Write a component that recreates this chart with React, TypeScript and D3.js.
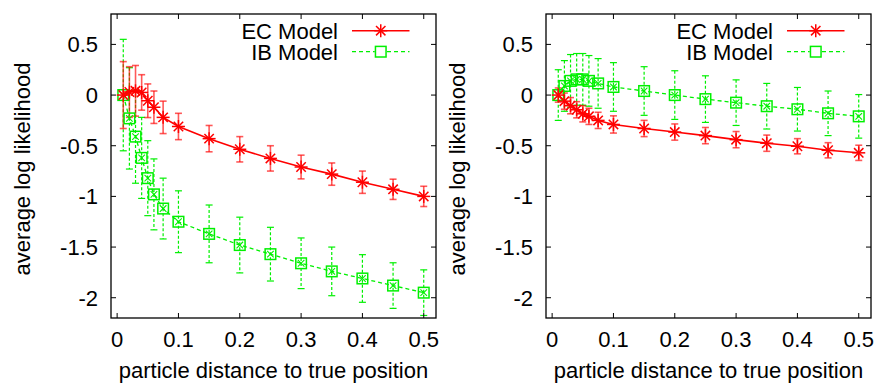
import React from "react";
import * as d3 from "d3";

const distances = [0.01, 0.02, 0.03, 0.04, 0.05, 0.06, 0.075, 0.1, 0.15, 0.2, 0.25, 0.3, 0.35, 0.4, 0.45, 0.5];

// Left panel
const leftEC = [0, 0.03, 0.042, 0.026, -0.056, -0.12, -0.22, -0.31, -0.43, -0.535, -0.625, -0.71, -0.78, -0.86, -0.93, -1.0];
const leftECErr = [0.33, 0.25, 0.25, 0.175, 0.166, 0.16, 0.16, 0.13, 0.13, 0.125, 0.125, 0.117, 0.11, 0.11, 0.1, 0.1];
const leftIB = [0, -0.23, -0.41, -0.62, -0.82, -0.98, -1.12, -1.25, -1.37, -1.48, -1.57, -1.66, -1.74, -1.81, -1.88, -1.95];
const leftIBErr = [0.55, 0.5, 0.46, 0.4, 0.37, 0.35, 0.3, 0.305, 0.285, 0.275, 0.265, 0.25, 0.24, 0.235, 0.225, 0.225];

// Right panel
const rightEC = [0, -0.06, -0.105, -0.145, -0.185, -0.21, -0.25, -0.29, -0.33, -0.365, -0.4, -0.44, -0.475, -0.505, -0.545, -0.57];
const rightECErr = [0.07, 0.08, 0.08, 0.08, 0.08, 0.08, 0.08, 0.085, 0.08, 0.08, 0.08, 0.08, 0.08, 0.075, 0.075, 0.075];
const rightIB = [0, 0.09, 0.14, 0.155, 0.155, 0.14, 0.115, 0.08, 0.04, 0.0, -0.04, -0.075, -0.11, -0.14, -0.18, -0.21];
const rightIBErr = [0.25, 0.25, 0.26, 0.255, 0.255, 0.25, 0.245, 0.24, 0.24, 0.24, 0.23, 0.225, 0.225, 0.215, 0.22, 0.215];

const xTicks = [0, 0.1, 0.2, 0.3, 0.4, 0.5];
const xTickLabels = ["0", "0.1", "0.2", "0.3", "0.4", "0.5"];
const yTicks = [0.5, 0, -0.5, -1, -1.5, -2];
const yTickLabels = ["0.5", "0", "-0.5", "-1", "-1.5", "-2"];
const seriesNames = ["EC Model", "IB Model"];
const xAxisTitle = "particle distance to true position";
const yAxisTitle = "average log likelihood";

const RED = "#ff0000";
const GREEN = "#00f000";
const FONT = "'Liberation Sans', Arial, Helvetica, sans-serif";
const FS = 22;

function Star({ x, y, color }: { x: number; y: number; color: string }) {
  const a = 6.5;
  const b = 4.7;
  return (
    <g stroke={color} strokeWidth={1.5}>
      <line x1={x - a} y1={y} x2={x + a} y2={y} />
      <line x1={x} y1={y - a} x2={x} y2={y + a} />
      <line x1={x - b} y1={y - b} x2={x + b} y2={y + b} />
      <line x1={x - b} y1={y + b} x2={x + b} y2={y - b} />
    </g>
  );
}

function BoxX({ x, y, color, inner = true }: { x: number; y: number; color: string; inner?: boolean }) {
  const s = 5.3;
  const c = 3.3;
  return (
    <g stroke={color} strokeWidth={1.5} fill="none">
      <rect x={x - s} y={y - s} width={2 * s} height={2 * s} />
      {inner && (
        <>
          <line x1={x - c} y1={y - c} x2={x + c} y2={y + c} strokeWidth={1.1} />
          <line x1={x - c} y1={y + c} x2={x + c} y2={y - c} strokeWidth={1.1} />
        </>
      )}
    </g>
  );
}

function Panel({
  left,
  ec,
  ecErr,
  ib,
  ibErr,
}: {
  left: number;
  ec: number[];
  ecErr: number[];
  ib: number[];
  ibErr: number[];
}) {
  const top = 14;
  const bottom = 318;
  const width = 325;
  const right = left + width;
  const x = d3.scaleLinear().domain([-0.01, 0.52]).range([left, right]);
  const y = d3.scaleLinear().domain([-2.2, 0.8]).range([bottom, top]);
  const line = d3
    .line<number>()
    .x((_, i) => x(distances[i]))
    .y((d) => y(d));
  const cap = 3.5;
  const tl = 5;

  const legendTextX = right - 98;
  const legendL1 = right - 84;
  const legendL2 = right - 26.5;
  const legendMid = (legendL1 + legendL2) / 2;
  const row1 = 30.7;
  const row2 = 51.7;

  return (
    <g>
      {/* error bars IB */}
      <g stroke={GREEN} strokeWidth={1.2} strokeDasharray="3,2" fill="none">
        {ib.map((v, i) => {
          const cx = x(distances[i]);
          const y1 = y(v + ibErr[i]);
          const y2 = y(v - ibErr[i]);
          return (
            <g key={i}>
              <line x1={cx} y1={y1} x2={cx} y2={y2} />
              <line x1={cx - cap} y1={y1} x2={cx + cap} y2={y1} strokeDasharray="none" />
              <line x1={cx - cap} y1={y2} x2={cx + cap} y2={y2} strokeDasharray="none" />
            </g>
          );
        })}
      </g>
      {/* error bars EC */}
      <g stroke={RED} strokeOpacity={0.65} strokeWidth={1.6} fill="none">
        {ec.map((v, i) => {
          const cx = x(distances[i]);
          const y1 = y(v + ecErr[i]);
          const y2 = y(v - ecErr[i]);
          return (
            <g key={i}>
              <line x1={cx} y1={y1} x2={cx} y2={y2} />
              <line x1={cx - cap} y1={y1} x2={cx + cap} y2={y1} />
              <line x1={cx - cap} y1={y2} x2={cx + cap} y2={y2} />
            </g>
          );
        })}
      </g>
      {/* lines */}
      <path d={line(ib) || ""} stroke={GREEN} strokeWidth={1.3} strokeDasharray="4,3" fill="none" />
      <path d={line(ec) || ""} stroke={RED} strokeWidth={1.6} fill="none" />
      {ib.map((v, i) => (
        <BoxX key={"b" + i} x={x(distances[i])} y={y(v)} color={GREEN} />
      ))}
      {ec.map((v, i) => (
        <Star key={"s" + i} x={x(distances[i])} y={y(v)} color={RED} />
      ))}

      {/* frame */}
      <rect x={left} y={top} width={width} height={bottom - top} fill="none" stroke="#000" strokeWidth={1.3} />
      {/* ticks */}
      <g stroke="#000" strokeWidth={1}>
        {xTicks.map((t, i) => (
          <g key={"xt" + i}>
            <line x1={x(t)} y1={bottom} x2={x(t)} y2={bottom - tl} />
            <line x1={x(t)} y1={top} x2={x(t)} y2={top + tl} />
          </g>
        ))}
        {yTicks.map((t, i) => (
          <g key={"yt" + i}>
            <line x1={left} y1={y(t)} x2={left + tl} y2={y(t)} />
            <line x1={right} y1={y(t)} x2={right - tl} y2={y(t)} />
          </g>
        ))}
      </g>
      <g fontFamily={FONT} fontSize={FS} fill="#000">
        {xTicks.map((t, i) => (
          <text key={"xl" + i} x={x(t)} y={347} textAnchor="middle">
            {xTickLabels[i]}
          </text>
        ))}
        {yTicks.map((t, i) => (
          <text key={"yl" + i} x={left - 13} y={y(t)} dy="0.36em" textAnchor="end">
            {yTickLabels[i]}
          </text>
        ))}
        <text x={(left + right) / 2} y={378} textAnchor="middle">
          {xAxisTitle}
        </text>
        <text
          transform={`translate(${left - 81.5},${169}) rotate(-90)`}
          textAnchor="middle"
        >
          {yAxisTitle}
        </text>
        {/* legend */}
        <text x={legendTextX} y={row1} dy="0.36em" textAnchor="end">
          {seriesNames[0]}
        </text>
        <text x={legendTextX} y={row2} dy="0.36em" textAnchor="end">
          {seriesNames[1]}
        </text>
      </g>
      <line x1={legendL1} y1={row1} x2={legendL2} y2={row1} stroke={RED} strokeWidth={1.6} />
      <Star x={legendMid} y={row1} color={RED} />
      <line x1={legendL1} y1={row2} x2={legendL2} y2={row2} stroke={GREEN} strokeWidth={1.3} strokeDasharray="4,3" />
      <rect x={legendMid - 6} y={row2 - 6} width={12} height={12} fill="#fff" stroke="none" />
      <BoxX x={legendMid} y={row2} color={GREEN} inner={false} />
    </g>
  );
}

export default function App() {
  return (
    <svg
      width={877}
      height={383}
      viewBox="0 0 877 383"
      style={{ position: "absolute", left: 0, top: 0, background: "#fff" }}
    >
      <rect x={0} y={0} width={877} height={383} fill="#fff" />
      <Panel left={111} ec={leftEC} ecErr={leftECErr} ib={leftIB} ibErr={leftIBErr} />
      <Panel left={546} ec={rightEC} ecErr={rightECErr} ib={rightIB} ibErr={rightIBErr} />
    </svg>
  );
}
